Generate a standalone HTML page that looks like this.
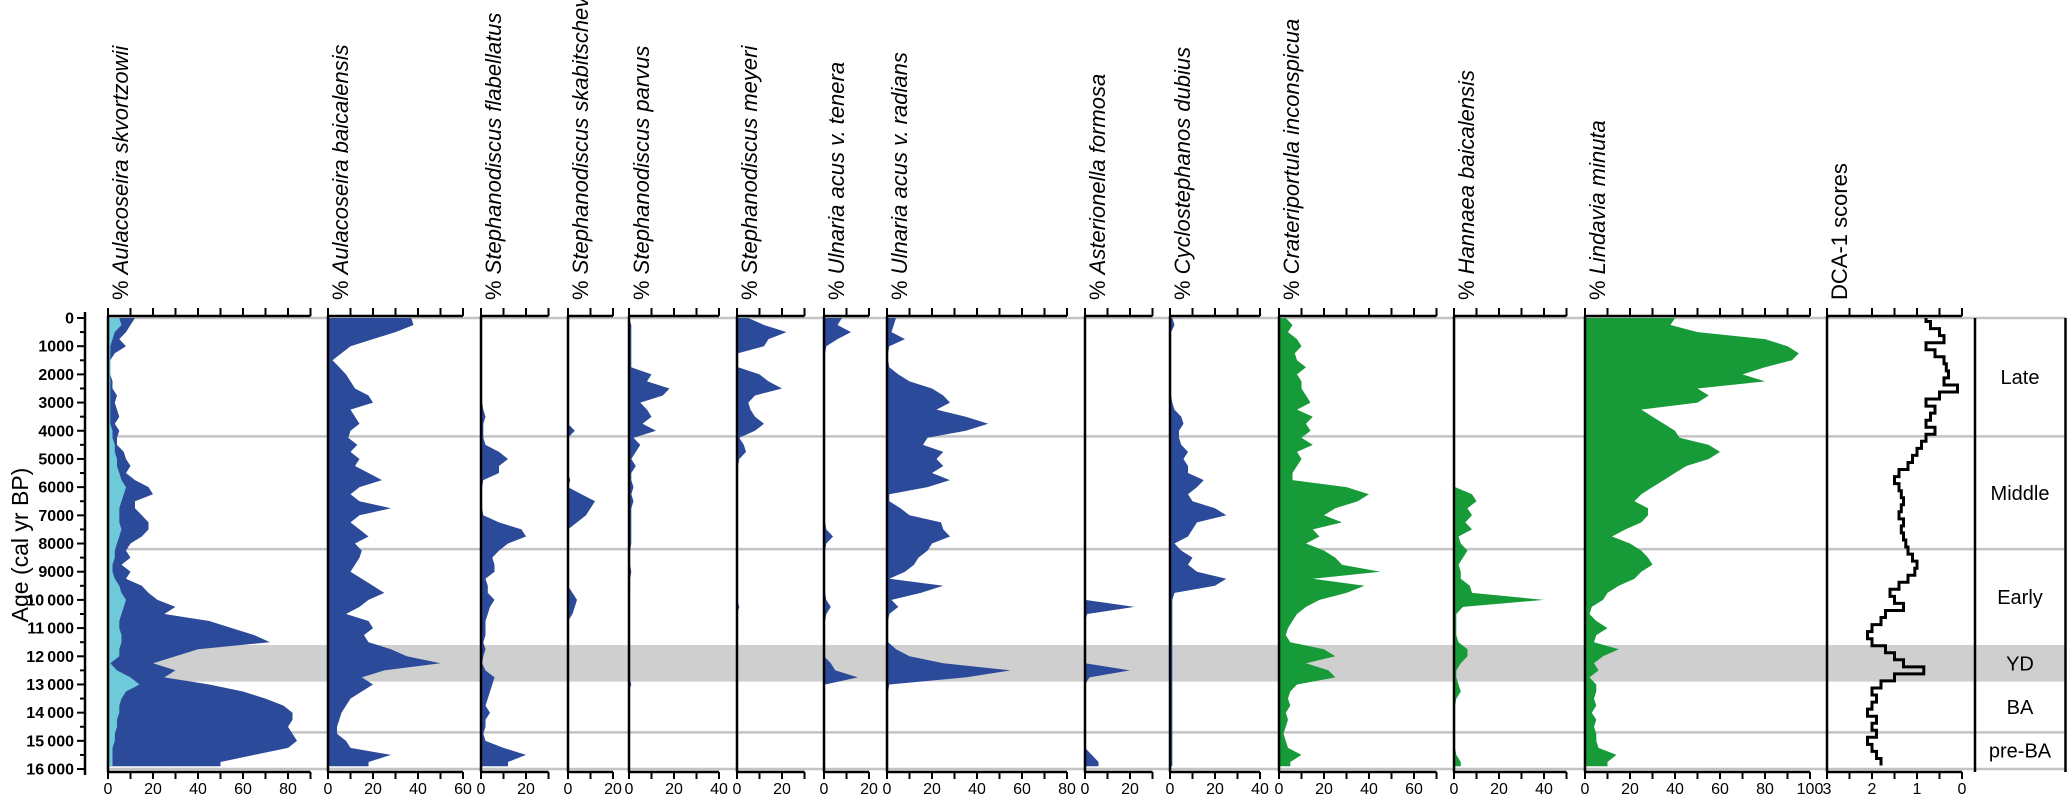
<!DOCTYPE html>
<html><head><meta charset="utf-8"><style>
html,body{margin:0;padding:0;background:#fff;}
svg{display:block;font-family:"Liberation Sans",Arial,sans-serif;}
</style></head><body>
<svg id="chart" width="2067" height="796" viewBox="0 0 2067 796" xmlns="http://www.w3.org/2000/svg"></svg>
<script>
const ages = [0,250,500,750,1000,1250,1500,1750,2000,2250,2500,2750,3000,3250,3500,3750,4000,4250,4500,4750,5000,5250,5500,5750,6000,6250,6500,6750,7000,7250,7500,7750,8000,8250,8500,8750,9000,9250,9500,9750,10000,10250,10500,10750,11000,11250,11500,11750,12000,12250,12500,12750,13000,13250,13500,13750,14000,14250,14500,14750,15000,15250,15500,15750];
const skvTotal = [12,10,8,5,8,3,1,1,1,2,2,4,3,4,5,3,5,4,4,7,8,10,8,12,18,20,12,12,15,18,18,15,10,8,10,6,10,8,15,18,22,30,25,45,55,65,72,40,30,20,30,25,45,60,70,78,82,82,80,82,84,80,65,50];
const skvLight = [5,6,3,2,1,1,1,1,1,1,1,1,1,1,1,1,2,2,3,3,4,4,5,6,8,7,6,5,5,5,6,5,4,3,3,2,2,3,5,6,8,7,6,5,5,6,6,5,5,1,4,10,14,8,6,5,5,4,4,3,3,2,2,2];
const baicalensis = [37,38,30,20,10,6,2,5,8,10,12,18,20,10,12,14,10,9,13,10,14,12,18,24,14,10,14,28,14,10,14,18,12,15,14,12,10,15,20,25,18,14,8,18,20,16,18,28,35,50,25,15,20,15,10,8,6,5,4,4,8,10,28,18];
const flabellatus = [0.5,0.5,0.5,0.5,0.5,0.5,0.5,0.5,0.5,0.5,0.5,0.5,0.5,1,2,1,1,1,2,8,12,8,8,1,0.5,0.5,0.5,0.5,1,8,18,20,12,8,5,6,6,2,3,3,6,4,3,2,2,2,1,2,1,0.5,2,6,5,4,3,2,4,2,2,1,2,10,20,12];
const skabit = [0,0,0,0,0,0,0,0,0,0,0,0,0,0,0,0,3,0,0,0,0,0,0,1,0,6,12,10,8,4,0,0,0,0,0,0,0,0,0,2,4,3,2,0,0,0,0,0,0,0,0,0,0,0,0,0,0,0,0,0,0,0,0,0];
const parvus = [0,1,1,1,1,1,1,1,10,8,18,15,5,8,10,6,12,2,5,3,1,3,1,1,2,1,2,1,1,1,1,1,1,0.5,0.5,0.5,1,0.5,0.5,0.5,0,0,0,0,0,0,0,0,0,0,0,0,1,0,0,0,0,0,0,0,0,0,0,0];
const meyeri = [5,12,22,14,12,0.5,0.5,0.5,10,14,20,8,5,6,8,12,8,1,3,4,1,0.5,0.5,0,0,0,0,0,0,0,0,0,0,0,0,0,0,0,0,0,0,1,0,0,0,0,0,0,0,0,0,0,0,0,0,0,0,0,0,0,0,0,0,0];
const tenera = [8,6,12,6,1,0.5,0.5,0.5,0.5,0.5,0.5,0.5,0.5,0.5,0.5,0.5,0.5,0.5,0.5,0.5,0.5,0.5,0.5,0.5,0.5,0.5,0.5,0.5,0.5,0.5,1,4,1,0.5,0.5,0.5,0.5,0.5,0.5,0.5,1,3,1,0.5,0,0,0,0,0,3,5,15,0.5,0,0,0,0,0,0,0,0,0,0,0];
const radians = [4,3,2,8,1,0.5,0.5,1,5,10,20,25,28,22,35,45,35,18,16,25,22,25,20,28,18,1,1,6,10,24,25,28,20,18,14,12,8,1,25,15,2,5,1,0.5,0.5,0.5,0.5,4,10,25,55,35,1,0.5,0.5,0.5,0.5,0.5,0.5,0.5,0.5,0.5,0.5,0.5];
const formosa = [0,0,0,0,0,0,0,0,0,0,0,0,0,0,0,0,0,0,0,0,0,0,0,0,0,0,0,0,0,0,0,0,0,0,0,0,0,0,0,0,0,22,1,0,0,0,0,0,0,0,20,2,0,0,0,0,0,0,0,0,0,0,3,6];
const dubius = [1,2,0.5,0.5,0.5,0.5,0.5,0.5,0.5,0.5,0.5,0.5,1,2,5,6,4,4,5,8,6,8,8,15,12,8,10,20,25,12,10,8,2,5,10,8,12,25,20,2,1,1,1,1,1,1,1,1,1,1,1,1,1,1,1,1,1,1,1,1,1,1,1,1];
const inconspicua = [3,6,4,8,10,7,8,12,8,10,10,12,14,8,15,12,14,10,15,8,10,8,6,6,30,40,35,25,20,28,15,18,12,20,25,28,45,15,38,30,18,12,8,6,4,3,5,20,25,12,22,25,8,5,4,5,3,4,3,2,3,4,10,5];
const hannaea = [0.5,0.5,0.5,0.5,0.5,0.5,0.5,0.5,0.5,0.5,0.5,0.5,0.5,0.5,0.5,0.5,0.5,0.5,0.5,0.5,0.5,0.5,0.5,0.5,0.5,8,10,6,8,5,8,2,3,6,4,2,3,3,7,8,40,4,1,1,1,1,2,6,6,3,1,1,2,3,1,0.5,0.5,0.5,0.5,0.5,0.5,0.5,1,3];
const lindavia = [40,38,50,80,90,95,92,80,70,80,50,55,50,25,30,35,40,42,55,60,55,45,40,35,30,25,22,28,28,25,18,12,20,25,28,30,25,22,15,10,8,3,2,5,10,5,4,15,8,4,6,2,5,5,4,5,3,5,4,5,5,6,14,10];
const dca = [0.8,0.7,0.5,0.4,0.8,0.6,0.4,0.35,0.3,0.4,0.1,0.5,0.8,0.6,0.7,0.8,0.6,0.8,0.9,1.0,1.1,1.2,1.4,1.5,1.4,1.35,1.3,1.35,1.4,1.3,1.35,1.3,1.25,1.2,1.1,1.0,1.05,1.2,1.4,1.6,1.5,1.3,1.7,1.8,2.0,2.1,2.0,1.7,1.5,1.3,0.85,1.5,1.8,2.0,1.9,2.0,2.1,1.9,2.0,1.9,2.1,2.0,1.9,1.8];
const ageTicks = [0,1000,2000,3000,4000,5000,6000,7000,8000,9000,10000,11000,12000,13000,14000,15000,16000];
const zoneBounds = [0,4200,8200,14700,16000];
const ydBand = [11600,12900];
const zoneNames = ["Late","Middle","Early","YD","BA","pre-BA"];
const zoneMids = [2100,6200,9900,12250,13800,15350];

const NS="http://www.w3.org/2000/svg";
const svg=document.getElementById('chart');
const Y0=318, PXK=28.19, TOP=316, BOT=772, PXP=2.25, END=15900;
function yA(a){return Y0+a/1000*PXK;}
function mk(tag,attrs,parent){const e=document.createElementNS(NS,tag);for(const k in attrs)e.setAttribute(k,attrs[k]);(parent||svg).appendChild(e);return e;}
const DARK="#2c4a9a", LIGHT="#6ccad9", GREEN="#179b38";

let band=mk('rect',{x:108,y:yA(ydBand[0]),width:1958,height:yA(ydBand[1])-yA(ydBand[0]),fill:"#cfcfcf"});


zoneBounds.forEach(b=>{
  const l=mk('line',{x1:108,x2:2066,y1:yA(b),y2:yA(b),stroke:"#c4c4c4","stroke-width":2.5});
  
  
});

const panels=[
 {name:"aulacoseira-skvortzowii",title:"Aulacoseira skvortzowii",left:108,max:90,series:[[skvTotal,DARK],[skvLight,LIGHT]]},
 {name:"aulacoseira-baicalensis",title:"Aulacoseira baicalensis",left:328,max:60,series:[[baicalensis,DARK]]},
 {name:"stephanodiscus-flabellatus",title:"Stephanodiscus flabellatus",left:481,max:30,series:[[flabellatus,DARK]]},
 {name:"stephanodiscus-skabitschevskyi",title:"Stephanodiscus skabitschevskyi",left:568,max:20,series:[[skabit,DARK]]},
 {name:"stephanodiscus-parvus",title:"Stephanodiscus parvus",left:629,max:40,series:[[parvus,DARK]]},
 {name:"stephanodiscus-meyeri",title:"Stephanodiscus meyeri",left:737,max:30,series:[[meyeri,DARK]]},
 {name:"ulnaria-acus-tenera",title:"Ulnaria acus v. tenera",left:824,max:20,series:[[tenera,DARK]]},
 {name:"ulnaria-acus-radians",title:"Ulnaria acus v. radians",left:887,max:80,series:[[radians,DARK]]},
 {name:"asterionella-formosa",title:"Asterionella formosa",left:1085,max:30,series:[[formosa,DARK]]},
 {name:"cyclostephanos-dubius",title:"Cyclostephanos dubius",left:1170,max:40,series:[[dubius,DARK]]},
 {name:"crateriportula-inconspicua",title:"Crateriportula inconspicua",left:1279,max:70,series:[[inconspicua,GREEN]]},
 {name:"hannaea-baicalensis",title:"Hannaea baicalensis",left:1454,max:50,series:[[hannaea,GREEN]]},
 {name:"lindavia-minuta",title:"Lindavia minuta",left:1585,max:100,series:[[lindavia,GREEN]]}
];

panels.forEach(p=>{
  const g=mk('g',{});
  
  
  const xv=v=>p.left+v*PXP;
  p.series.forEach(([vals,col])=>{
    let pts=[[p.left,yA(0)]];
    vals.forEach((v,i)=>pts.push([xv(v),yA(ages[i])]));
    pts.push([xv(vals[vals.length-1]),yA(END)]);
    pts.push([p.left,yA(END)]);
    const poly=mk('polygon',{points:pts.map(q=>q[0].toFixed(1)+','+q[1].toFixed(1)).join(' '),fill:col},g);
    
    
  });
  const right=p.left+p.max*PXP;
  mk('line',{x1:p.left,x2:p.left,y1:TOP,y2:BOT,stroke:"#000","stroke-width":2.5},g);
  mk('line',{x1:p.left,x2:right,y1:TOP,y2:TOP,stroke:"#000","stroke-width":2.5},g);
  mk('line',{x1:p.left,x2:right,y1:BOT,y2:BOT,stroke:"#000","stroke-width":2.5},g);
  for(let v=0;v<=p.max;v+=10){
    mk('line',{x1:xv(v),x2:xv(v),y1:TOP-8,y2:TOP,stroke:"#000","stroke-width":2},g);
    mk('line',{x1:xv(v),x2:xv(v),y1:BOT,y2:BOT+7,stroke:"#000","stroke-width":2},g);
    if(v%20===0){
      const t=mk('text',{x:xv(v),y:794,"text-anchor":"middle","font-size":16},g);
      t.textContent=v;
      
      
    }
  }
  const tt=mk('text',{transform:`translate(${p.left+20},300) rotate(-90)`,"font-size":22},g);
  
  
  const s1=mk('tspan',{},tt); s1.textContent="% ";
  const s2=mk('tspan',{"font-style":"italic"},tt); s2.textContent=p.title;
});

(function(){
  const g=mk('g',{});
  
  
  const L=1827,R=1962;
  const xd=v=>R-v*(R-L)/3;
  let d='';
  dca.forEach((v,i)=>{
    const y1=yA(Math.max(0,ages[i]-125)), y2=yA(Math.min(END,ages[i]+125));
    d+=(i===0?'M':'L')+xd(v).toFixed(1)+','+y1.toFixed(1)+' L'+xd(v).toFixed(1)+','+y2.toFixed(1)+' ';
  });
  const path=mk('path',{d:d,fill:"none",stroke:"#000","stroke-width":3},g);
  
  
  mk('line',{x1:L,x2:L,y1:TOP,y2:BOT,stroke:"#000","stroke-width":2.5},g);
  mk('line',{x1:L,x2:R,y1:TOP,y2:TOP,stroke:"#000","stroke-width":2.5},g);
  mk('line',{x1:L,x2:R,y1:BOT,y2:BOT,stroke:"#000","stroke-width":2.5},g);
  for(let v=0;v<=3;v+=0.5){
    mk('line',{x1:xd(v),x2:xd(v),y1:TOP-8,y2:TOP,stroke:"#000","stroke-width":2},g);
    mk('line',{x1:xd(v),x2:xd(v),y1:BOT,y2:BOT+7,stroke:"#000","stroke-width":2},g);
    if(v%1===0){
      const t=mk('text',{x:xd(v),y:794,"text-anchor":"middle","font-size":16},g);
      t.textContent=v;
      
      
    }
  }
  const tt=mk('text',{transform:`translate(${L+20},300) rotate(-90)`,"font-size":22},g);
  tt.textContent="DCA-1 scores";
  
  
})();

(function(){
  const g=mk('g',{});
  
  
  mk('line',{x1:1975,x2:1975,y1:yA(0),y2:BOT,stroke:"#000","stroke-width":2.5},g);
  mk('line',{x1:2065.5,x2:2065.5,y1:yA(0),y2:BOT,stroke:"#000","stroke-width":2.5},g);
  zoneNames.forEach((n,i)=>{
    const t=mk('text',{x:2020,y:yA(zoneMids[i])+7,"text-anchor":"middle","font-size":20},g);
    t.textContent=n;
    
    
  });
})();

(function(){
  const g=mk('g',{});
  
  
  mk('line',{x1:85,x2:85,y1:yA(0)-6,y2:yA(16000)+6,stroke:"#000","stroke-width":2.5},g);
  for(let a=0;a<=16000;a+=500){
    mk('line',{x1:a%1000===0?77:80,x2:85,y1:yA(a),y2:yA(a),stroke:"#000","stroke-width":2},g);
  }
  ageTicks.forEach(a=>{
    const t=mk('text',{x:74,y:yA(a)+5.5,"text-anchor":"end","font-size":16,"font-weight":"bold"},g);
    t.textContent=a>=10000?(Math.floor(a/1000)+"\u2009000"):String(a);
    
    
  });
  const at=mk('text',{transform:"translate(28,545) rotate(-90)","text-anchor":"middle","font-size":23},g);
  at.textContent="Age (cal yr BP)";
  
  
})();
</script>
</body></html>
